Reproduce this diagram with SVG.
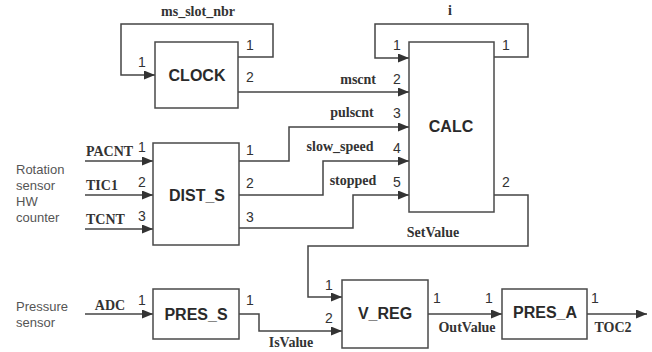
<svg xmlns="http://www.w3.org/2000/svg" width="652" height="352" viewBox="0 0 652 352">
<style>
.box{fill:#fff;stroke:#4a4a4a;stroke-width:1.5}
.bl{font-family:"Liberation Sans",Arial,sans-serif;font-weight:bold;font-size:16px;fill:#2a2a2a;text-anchor:middle}
.sig{font-family:"Liberation Serif","Times New Roman",serif;font-weight:bold;font-size:14px;fill:#333}
.p{font-family:"Liberation Sans",Arial,sans-serif;font-size:14px;fill:#333;text-anchor:middle}
.ext{font-family:"Liberation Sans",Arial,sans-serif;font-size:13px;fill:#555}
.w{fill:none;stroke:#444;stroke-width:1.5}
.m{text-anchor:middle}
</style>
<defs>
<marker id="ah" markerUnits="userSpaceOnUse" markerWidth="11" markerHeight="9" refX="11" refY="4.5" orient="auto">
<path d="M0,0 L11,4.5 L0,9 z" fill="#333"/>
</marker>
</defs>
<g id="connectors">
<path class="w" d="M238,57 H273 V24 H121 V75 H155" marker-end="url(#ah)"/>
<path class="w" d="M238,92 H409" marker-end="url(#ah)"/>
<path class="w" d="M494,57 H528 V24 H375 V58 H409" marker-end="url(#ah)"/>
<path class="w" d="M85,161 H153" marker-end="url(#ah)"/>
<path class="w" d="M85,195 H153" marker-end="url(#ah)"/>
<path class="w" d="M85,229 H153" marker-end="url(#ah)"/>
<path class="w" d="M239,161 H289 V127 H409" marker-end="url(#ah)"/>
<path class="w" d="M239,195 H323 V161 H409" marker-end="url(#ah)"/>
<path class="w" d="M239,228 H353 V195 H409" marker-end="url(#ah)"/>
<path class="w" d="M494,195 H528 V246 H308 V297 H342" marker-end="url(#ah)"/>
<path class="w" d="M85,314 H153" marker-end="url(#ah)"/>
<path class="w" d="M239,314 H259 V331 H342" marker-end="url(#ah)"/>
<path class="w" d="M428,314 H502" marker-end="url(#ah)"/>
<path class="w" d="M587,314 H647" marker-end="url(#ah)"/>
</g>
<g id="CLOCK">
<rect class="box" x="155" y="42" width="83" height="66"/>
<text class="bl" x="197" y="81">CLOCK</text>
</g>
<g id="CALC">
<rect class="box" x="409" y="42" width="85" height="170"/>
<text class="bl" x="451" y="132">CALC</text>
</g>
<g id="DIST_S">
<rect class="box" x="153" y="143" width="86" height="102"/>
<text class="bl" x="197" y="201">DIST_S</text>
</g>
<g id="PRES_S">
<rect class="box" x="153" y="289" width="86" height="50"/>
<text class="bl" x="196" y="320">PRES_S</text>
</g>
<g id="V_REG">
<rect class="box" x="342" y="280" width="86" height="68"/>
<text class="bl" x="385" y="319">V_REG</text>
</g>
<g id="PRES_A">
<rect class="box" x="502" y="289" width="85" height="50"/>
<text class="bl" x="545" y="318">PRES_A</text>
</g>
<g id="labels">
<text class="sig m" x="198" y="16">ms_slot_nbr</text>
<text class="sig m" x="450" y="15">i</text>
<text class="sig" x="376" y="84" text-anchor="end">mscnt</text>
<text class="sig m" x="352" y="117">pulscnt</text>
<text class="sig m" x="340" y="151">slow_speed</text>
<text class="sig m" x="353" y="185">stopped</text>
<text class="sig" x="86" y="156">PACNT</text>
<text class="sig" x="86" y="190">TIC1</text>
<text class="sig" x="86" y="224">TCNT</text>
<text class="sig m" x="433" y="237">SetValue</text>
<text class="sig m" x="110" y="310">ADC</text>
<text class="sig m" x="291" y="347">IsValue</text>
<text class="sig m" x="467" y="332">OutValue</text>
<text class="sig m" x="613" y="332">TOC2</text>
<text class="ext" x="16" y="174">Rotation</text>
<text class="ext" x="16" y="190">sensor</text>
<text class="ext" x="16" y="206">HW</text>
<text class="ext" x="16" y="222">counter</text>
<text class="ext" x="16" y="311">Pressure</text>
<text class="ext" x="16" y="327">sensor</text>
</g>
<g id="ports">
<text class="p" x="142" y="67">1</text>
<text class="p" x="250" y="50">1</text>
<text class="p" x="250" y="82">2</text>
<text class="p" x="397" y="50">1</text>
<text class="p" x="506" y="50">1</text>
<text class="p" x="397" y="84">2</text>
<text class="p" x="397" y="118">3</text>
<text class="p" x="397" y="153">4</text>
<text class="p" x="397" y="187">5</text>
<text class="p" x="506" y="187">2</text>
<text class="p" x="142" y="152">1</text>
<text class="p" x="142" y="187">2</text>
<text class="p" x="142" y="221">3</text>
<text class="p" x="250" y="155">1</text>
<text class="p" x="250" y="188">2</text>
<text class="p" x="250" y="222">3</text>
<text class="p" x="142" y="305">1</text>
<text class="p" x="250" y="305">1</text>
<text class="p" x="329" y="290">1</text>
<text class="p" x="329" y="323">2</text>
<text class="p" x="437" y="303">1</text>
<text class="p" x="489" y="303">1</text>
<text class="p" x="595" y="303">1</text>
</g>
</svg>
